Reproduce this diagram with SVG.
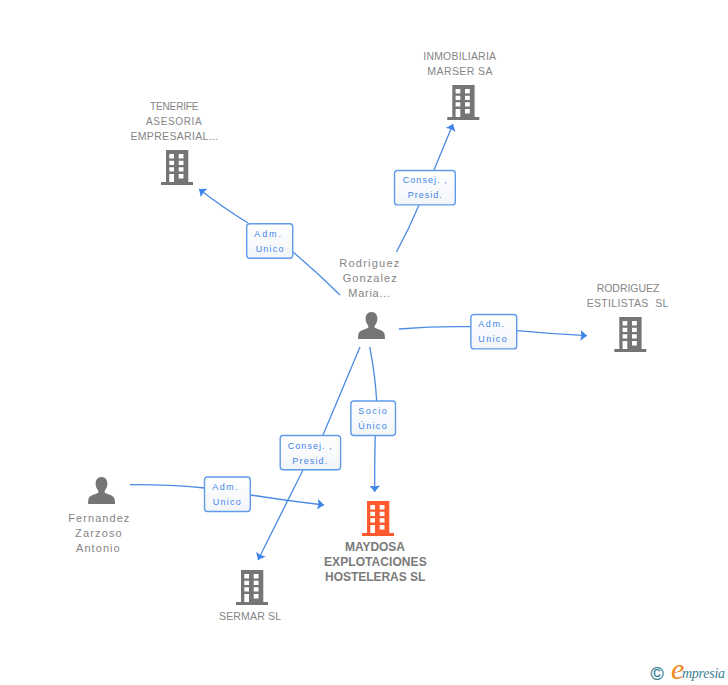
<svg xmlns="http://www.w3.org/2000/svg" width="728" height="685" viewBox="0 0 728 685">
<style>
.n{font-family:"Liberation Sans",Arial,sans-serif;font-size:10.5px;fill:#858585}
.s{font-size:10px}
.p{font-size:11px}
.b{font-weight:bold;font-size:12px;fill:#7a7a7a}
.l{font-family:"Liberation Sans",Arial,sans-serif;font-size:9px;fill:#3f85e8}
.box{fill:url(#g);stroke:#5f9bea;stroke-width:1.4}
.c{fill:none;stroke:#4a8be3;stroke-width:1.3}
.a{marker-end:url(#arr)}
</style>
<defs>
<linearGradient id="g" x1="0" y1="0" x2="0" y2="1"><stop offset="0" stop-color="#fff"/><stop offset="1" stop-color="#f2f5f9"/></linearGradient>
<marker id="arr" markerUnits="userSpaceOnUse" markerWidth="12" markerHeight="12" refX="6.500" refY="6" orient="auto" viewBox="0 0 12 12"><path d="M6.500 6L0 .7L1 6L0 11.300Z" fill="#3f85e8"/></marker>
<symbol id="bld" overflow="visible"><path fill-rule="evenodd" d="M0 0H22.300V32H27V35H-5V32H0ZM3.300 4V8.500H8V4ZM12.700 4V8.500H17.500V4ZM3.300 10.700V15H8V10.700ZM12.700 10.700V15H17.500V10.700ZM3.300 17.200V21.500H8V17.200ZM12.700 17.200V21.500H17.500V17.200ZM3.300 24V32H8V24ZM12.700 24V28.500H17.500V24Z"/></symbol>
<symbol id="per" overflow="visible"><path d="M13.500 0C9.500 0 7.600 3 7.600 6.500C7.600 9.500 8.800 12 10.300 13.800V15.800C7 17.500 1.500 18.500 .6 21.500C.2 23 0 25 0 27H27C27 25 26.800 23 26.400 21.500C25.500 18.500 20 17.500 16.700 15.800V13.800C18.200 12 19.400 9.500 19.400 6.500C19.400 3 17.500 0 13.500 0Z"/></symbol>
</defs>
<rect width="728" height="685" fill="#fff"/>
<g id="connectors">
<path class="c" d="M340 295Q318 273 293 252"/>
<path class="c a" d="M248 223Q222 207 199 189"/>
<path class="c" d="M396.500 252Q409 229 419 205"/>
<path class="c a" d="M434 170L453 124"/>
<path class="c" d="M399 329Q435 326 471 326.700"/>
<path class="c a" d="M517 330.700Q552 334 587 335.700"/>
<path class="c" d="M369.700 347Q375 373 376.700 401"/>
<path class="c a" d="M375.200 435.500Q374.500 464 374.700 492"/>
<path class="c" d="M360 347L323 435"/>
<path class="c a" d="M303 470L258 560"/>
<path class="c" d="M130 484.700Q168 484.500 205 488"/>
<path class="c a" d="M250.700 495Q288 501 324 505"/>
</g>
<g id="edge-labels">
<g><rect class="box" x="246.700" y="223.700" width="46" height="34.600" rx="3"/><text class="l" x="254.300" y="236.500" textLength="26.700">Adm.</text><text class="l" x="255.700" y="251.500" textLength="27.700">Unico</text></g>
<g><rect class="box" x="394.500" y="170.500" width="60.800" height="34.400" rx="3"/><text class="l" x="402.700" y="182.500" textLength="44">Consej. ,</text><text class="l" x="407.700" y="197.500" textLength="34">Presid.</text></g>
<g><rect class="box" x="470.900" y="314.500" width="45.800" height="34.400" rx="3"/><text class="l" x="478.300" y="326.500" textLength="25.700">Adm.</text><text class="l" x="478.300" y="341.500" textLength="28.400">Unico</text></g>
<g><rect class="box" x="350.900" y="401" width="44.600" height="34.500" rx="3"/><text class="l" x="358.300" y="413.500" textLength="28.400">Socio</text><text class="l" x="358.300" y="428.500" textLength="28.400">Único</text></g>
<g><rect class="box" x="280.200" y="435.500" width="60.400" height="34.300" rx="3"/><text class="l" x="287.700" y="449" textLength="44">Consej. ,</text><text class="l" x="292.300" y="464" textLength="35">Presid.</text></g>
<g><rect class="box" x="204.500" y="477" width="45.800" height="34.500" rx="3"/><text class="l" x="212.300" y="490" textLength="25.400">Adm.</text><text class="l" x="212.700" y="505" textLength="28">Unico</text></g>
</g>
<g id="node-tenerife"><use href="#bld" x="166" y="150" fill="#757575"/><text class="n s" x="150" y="110" textLength="48.500">TENERIFE</text><text class="n s" x="146" y="125" textLength="55.700">ASESORIA</text><text class="n" x="130.500" y="140" textLength="87.500">EMPRESARIAL...</text></g>
<g id="node-inmobiliaria"><use href="#bld" x="452.300" y="85" fill="#757575"/><text class="n" x="423.300" y="60" textLength="72.700">INMOBILIARIA</text><text class="n" x="427.300" y="75" textLength="65.200">MARSER SA</text></g>
<g id="node-estilistas"><use href="#bld" x="619.300" y="317" fill="#757575"/><text class="n" x="596.700" y="292" textLength="62.600">RODRIGUEZ</text><text class="n" x="586.700" y="307" textLength="81.600" xml:space="preserve">ESTILISTAS  SL</text></g>
<g id="node-rodriguez"><use href="#per" x="358" y="312" fill="#757575"/><text class="n p" x="339.300" y="267" textLength="60">Rodriguez</text><text class="n p" x="342.700" y="282" textLength="54">Gonzalez</text><text class="n p" x="348.300" y="297" textLength="41.700">Maria...</text></g>
<g id="node-fernandez"><use href="#per" x="88" y="477" fill="#757575"/><text class="n p" x="68.300" y="522" textLength="61">Fernandez</text><text class="n p" x="75" y="537" textLength="46.700">Zarzoso</text><text class="n p" x="76" y="552" textLength="43.700">Antonio</text></g>
<g id="node-maydosa"><use href="#bld" x="367" y="501" fill="#ff5a2e"/><text class="n b" x="345" y="551" textLength="60">MAYDOSA</text><text class="n b" x="324" y="566" textLength="102.700">EXPLOTACIONES</text><text class="n b" x="325" y="581" textLength="100.300">HOSTELERAS SL</text></g>
<g id="node-sermar"><use href="#bld" x="241" y="570" fill="#757575"/><text class="n" x="219" y="620" textLength="62">SERMAR SL</text></g>
<g id="logo"><text x="650.500" y="680" font-family="'Liberation Sans',sans-serif" font-size="18" fill="#3d7f95" stroke="#3d7f95" stroke-width=".3">©</text><text x="671" y="679" font-family="'Liberation Serif',serif" font-style="italic" font-size="30" fill="#f08a1d">e</text><text x="682" y="678" font-family="'Liberation Serif',serif" font-style="italic" font-size="14" fill="#3d7f95" textLength="43">mpresia</text></g>
</svg>
